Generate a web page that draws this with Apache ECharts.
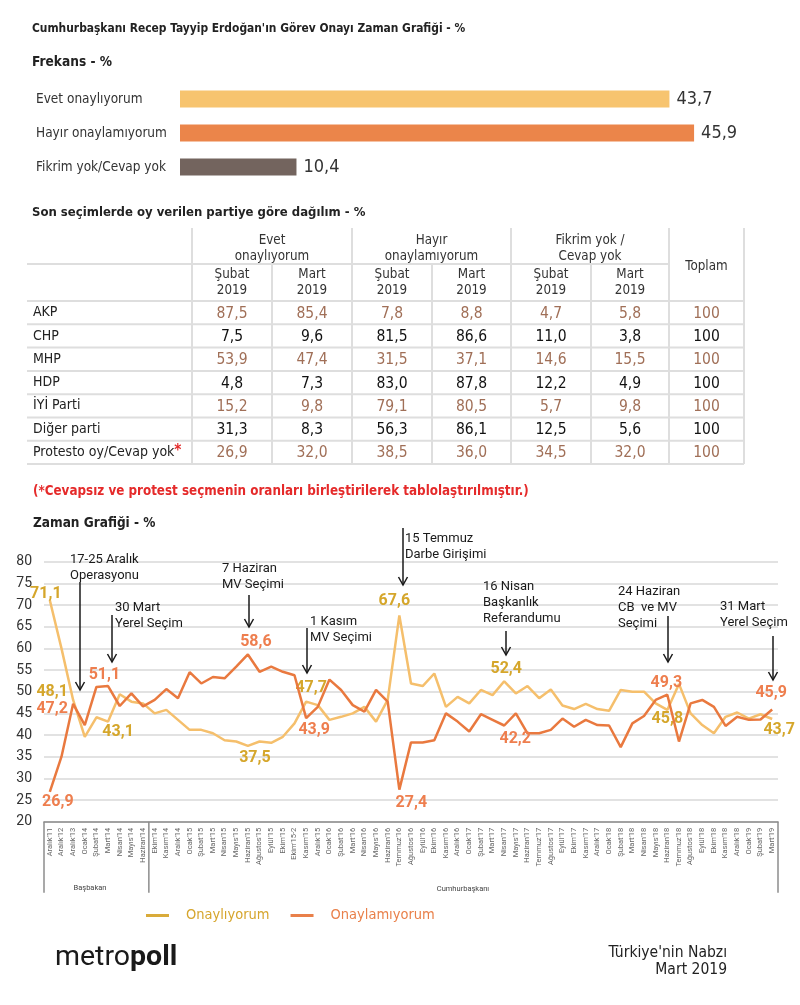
<!DOCTYPE html>
<html><head><meta charset="utf-8">
<script src="https://cdn.jsdelivr.net/npm/echarts@6/dist/echarts.min.js"></script>
<style>html,body{margin:0;padding:0;background:#fff}#c{width:800px;height:1005px}</style>
</head><body><div id="c"></div>
<script>
// ---------- DATA ----------
const freqCategories = ['Evet onaylıyorum', 'Hayır onaylamıyorum', 'Fikrim yok/Cevap yok'];
const freqValues = [43.7, 45.9, 10.4];

const parties = ['AKP', 'CHP', 'MHP', 'HDP', 'İYİ Parti', 'Diğer parti', 'Protesto oy/Cevap yok'];
const evetSubat   = [87.5, 7.5, 53.9, 4.8, 15.2, 31.3, 26.9];
const evetMart    = [85.4, 9.6, 47.4, 7.3, 9.8, 8.3, 32.0];
const hayirSubat  = [7.8, 81.5, 31.5, 83.0, 79.1, 56.3, 38.5];
const hayirMart   = [8.8, 86.6, 37.1, 87.8, 80.5, 86.1, 36.0];
const fikrimSubat = [4.7, 11.0, 14.6, 12.2, 5.7, 12.5, 34.5];
const fikrimMart  = [5.8, 3.8, 15.5, 4.9, 9.8, 5.6, 32.0];
const toplam      = [100, 100, 100, 100, 100, 100, 100];
const groupHeaders = [['Evet', 'onaylıyorum'], ['Hayır', 'onaylamıyorum'], ['Fikrim yok /', 'Cevap yok']];
const subHeaders = [['Şubat', '2019'], ['Mart', '2019']];

const months = ["Aralık'11","Aralık'12","Aralık'13","Ocak'14","Şubat'14","Mart'14","Nisan'14","Mayıs'14","Haziran'14",
 "Ekim'14","Kasım'14","Aralık'14","Ocak'15","Şubat'15","Mart'15","Nisan'15","Mayıs'15","Haziran'15","Ağustos'15","Eylül'15",
 "Ekim'15","Ekim'15-2","Kasım'15","Aralık'15","Ocak'16","Şubat'16","Mart'16","Nisan'16","Mayıs'16","Haziran'16","Temmuz'16",
 "Ağustos'16","Eylül'16","Ekim'16","Kasım'16","Aralık'16","Ocak'17","Şubat'17","Mart'17","Nisan'17","Mayıs'17","Haziran'17",
 "Temmuz'17","Ağustos'17","Eylül'17","Ekim'17","Kasım'17","Aralık'17","Ocak'18","Şubat'18","Mart'18","Nisan'18","Mayıs'18",
 "Haziran'18","Temmuz'18","Ağustos'18","Eylül'18","Ekim'18","Kasım'18","Aralık'18","Ocak'19","Şubat'19","Mart'19"];
const onayliyorum = [71.1,60.0,48.1,39.6,44.1,43.1,49.4,47.7,47.3,45.0,45.8,43.5,41.2,41.2,40.4,38.8,38.5,37.5,38.5,38.2,
 39.6,42.7,47.7,46.9,43.5,44.2,45.0,46.5,43.1,48.1,67.6,51.9,51.3,54.2,46.5,48.8,47.3,50.4,49.2,52.4,49.6,51.3,48.5,50.5,
 46.8,46.0,47.2,46.0,45.6,50.4,50.0,50.0,47.3,45.8,51.8,45.0,42.3,40.4,44.2,45.2,43.8,44.8,43.7];
const onaylamiyorum = [26.9,35.0,47.2,42.3,51.1,51.3,46.7,49.6,46.6,48.1,50.6,48.5,54.5,51.9,53.4,53.1,55.8,58.6,54.6,55.8,
 54.6,53.8,43.9,46.5,52.8,50.4,46.9,45.4,50.4,47.7,27.4,38.3,38.3,38.8,45.0,43.1,40.8,44.8,43.5,42.2,45.0,40.4,40.4,41.2,
 43.8,41.9,43.5,42.3,42.2,37.2,42.7,44.4,48.1,49.3,38.5,47.3,48.1,46.5,42.1,44.2,43.5,43.6,45.9];
const labeledYes = [0, 2, 5, 17, 22, 30, 39, 53, 62];
const labeledNo  = [0, 2, 4, 17, 22, 30, 39, 53, 62];

// ---------- STYLE / LAYOUT ----------
const COND = "'Liberation Sans Narrow','DejaVu Sans Condensed',Roboto,sans-serif";
const SANS = "Roboto,'Noto Sans',sans-serif";
const freqColors = ['#F7C46F', '#EB854A', '#73645E'];
const yesLine = '#F5BF6C', noLine = '#E9793F';
const yesText = '#D5A62B', noText = '#EE7E4E';
const brown = '#A06F57';
const yesOffsets = {0:[-4,-6], 2:[-21,-8], 5:[10,10], 17:[7,12], 22:[5,-14], 30:[-5,-14], 39:[2,-12], 53:[0,9], 62:[7,11]};
const noOffsets  = {0:[8,10], 2:[-21,5], 4:[8,-12], 17:[8,-12], 22:[8,12], 30:[12,13], 39:[11,13], 53:[-1,-12], 62:[-1,-16]};

function fmt(v) { return v.toFixed(1).replace('.', ','); }

const graphics = [];
function txt(x, y, text, font, fill, align, extra) {
  graphics.push({type: 'text', x: x, y: y, silent: true, z: 10,
    style: Object.assign({text: text, font: font, fill: fill || '#222', textAlign: align || 'left', textVerticalAlign: 'middle'}, extra || {})});
}
function line(x1, y1, x2, y2, stroke, w) {
  graphics.push({type: 'line', silent: true, z: 5, shape: {x1: x1, y1: y1, x2: x2, y2: y2}, style: {stroke: stroke, lineWidth: w}});
}

// titles
txt(32, 29, "Cumhurbaşkanı Recep Tayyip Erdoğan'ın Görev Onayı Zaman Grafiği - %", 'bold 11.9px ' + COND, '#222');
txt(32, 62, 'Frekans - %', 'bold 13.6px ' + COND, '#222');
txt(32, 213, 'Son seçimlerde oy verilen partiye göre dağılım - %', 'bold 13px ' + COND, '#222');
txt(33, 492, '(*Cevapsız ve protest seçmenin oranları birleştirilerek tablolaştırılmıştır.)', 'bold 13.3px ' + COND, '#E52A2A');
txt(33, 523, 'Zaman Grafiği - %', 'bold 13.5px ' + COND, '#222');

// table
const tableCols = [evetSubat, evetMart, hayirSubat, hayirMart, fikrimSubat, fikrimMart, toplam];
const edges = [192, 272, 352, 432, 511, 591, 669, 744];
const tLeft = 27, tTop = 228, groupY = 264, headY = 301, rowH = 23.3;
const tBottom = headY + rowH * parties.length;
const gridC = '#DEDEDE';
[0, 2, 4, 6, 7].forEach(k => line(edges[k], tTop, edges[k], tBottom, gridC, 2));
[1, 3, 5].forEach(k => line(edges[k], groupY, edges[k], tBottom, gridC, 2));
line(tLeft, groupY, edges[6], groupY, gridC, 2);
for (let r = 0; r <= parties.length; r++) line(tLeft, headY + r * rowH, edges[7], headY + r * rowH, gridC, 2);
const headFont = '13.3px ' + COND;
groupHeaders.forEach((g, k) => {
  const cx = (edges[2 * k] + edges[2 * k + 2]) / 2;
  txt(cx, 241, g[0], headFont, '#333', 'center');
  txt(cx, 257, g[1], headFont, '#333', 'center');
});
for (let c = 0; c < 6; c++) {
  const cx = (edges[c] + edges[c + 1]) / 2;
  txt(cx, 275, subHeaders[c % 2][0], headFont, '#333', 'center');
  txt(cx, 291, subHeaders[c % 2][1], headFont, '#333', 'center');
}
txt((edges[6] + edges[7]) / 2, 267, 'Toplam', headFont, '#333', 'center');
parties.forEach((p, r) => {
  const cy = headY + rowH * (r + 0.5);
  if (r === parties.length - 1) {
    graphics.push({type: 'text', x: 33, y: cy, silent: true, z: 10, style: {
      text: '{a|' + p + '}{b|*}', textVerticalAlign: 'middle', textAlign: 'left',
      rich: {a: {font: '14px ' + COND, fill: '#222'}, b: {font: 'bold 15px ' + COND, fill: '#E52A2A', padding: [0, 0, 2, 0]}}}});
  } else {
    txt(33, cy, p, '14px ' + COND, '#222');
  }
  const col = (r % 2 === 0) ? brown : '#111';
  tableCols.forEach((arr, c) => {
    const cx = (edges[c] + edges[c + 1]) / 2;
    const s = c === 6 ? String(arr[r]) : fmt(arr[r]);
    txt(cx, cy + 1, s, '15.5px ' + COND, col, 'center');
  });
});

// x-axis box lines for time chart
const gL = 44, gW = 734, gTop = 561.7, gH = 260;
const band = gW / months.length;
const axisBottom = gTop + gH;
const boxC = '#8c8c8c';
line(gL, axisBottom, gL, axisBottom + 71, boxC, 1.5);
line(gL + 9 * band, axisBottom, gL + 9 * band, axisBottom + 71, boxC, 1.5);
line(gL + gW, axisBottom, gL + gW, axisBottom + 71, boxC, 1.5);
txt(90, 888, 'Başbakan', '7.5px ' + SANS, '#444', 'center');
txt(463, 889, 'Cumhurbaşkanı', '7.5px ' + SANS, '#444', 'center');

// annotations
const annotations = [
  {lines: ['17-25 Aralık', 'Operasyonu'], tx: 70, ty: 560, ax: 80, ay1: 582, ay2: 690},
  {lines: ['30 Mart', 'Yerel Seçim'], tx: 115, ty: 608, ax: 112, ay1: 615, ay2: 662},
  {lines: ['7 Haziran', 'MV Seçimi'], tx: 222, ty: 569, ax: 249, ay1: 595, ay2: 627},
  {lines: ['1 Kasım', 'MV Seçimi'], tx: 310, ty: 622, ax: 307, ay1: 628, ay2: 673},
  {lines: ['15 Temmuz', 'Darbe Girişimi'], tx: 405, ty: 539, ax: 403, ay1: 528, ay2: 585},
  {lines: ['16 Nisan', 'Başkanlık', 'Referandumu'], tx: 483, ty: 587, ax: 506, ay1: 631, ay2: 655},
  {lines: ['24 Haziran', 'CB  ve MV', 'Seçimi'], tx: 618, ty: 592, ax: 668, ay1: 616, ay2: 662},
  {lines: ['31 Mart', 'Yerel Seçim'], tx: 720, ty: 607, ax: 773, ay1: 636, ay2: 680}
];
annotations.forEach(a => {
  a.lines.forEach((l, k) => txt(a.tx, a.ty + k * 16, l, '13px ' + SANS, '#1a1a1a'));
  line(a.ax, a.ay1, a.ax, a.ay2, '#1a1a1a', 1.5);
  graphics.push({type: 'polyline', silent: true, z: 6, shape: {points: [[a.ax - 4.5, a.ay2 - 8], [a.ax, a.ay2], [a.ax + 4.5, a.ay2 - 8]]},
    style: {stroke: '#1a1a1a', lineWidth: 1.5, fill: null}});
});

// footer
graphics.push({type: 'text', x: 55, y: 958, silent: true, z: 10, style: {
  text: '{a|metro}{b|poll}', textVerticalAlign: 'middle', textAlign: 'left',
  rich: {a: {font: '28.5px ' + SANS, fill: '#1a1a1a'}, b: {font: 'bold 28.5px ' + SANS, fill: '#1a1a1a'}}}});
txt(727, 953, "Türkiye'nin Nabzı", '15.5px ' + COND, '#222', 'right');
txt(727, 970, 'Mart 2019', '15.5px ' + COND, '#222', 'right');

// series data with selected labels
function buildData(values, idx, offsets, color) {
  return values.map((v, i) => idx.indexOf(i) >= 0 ? {
    value: v,
    label: {show: true, position: 'inside', offset: offsets[i], formatter: fmt(v), color: color,
      fontWeight: 'bold', fontSize: 16, fontFamily: SANS}
  } : v);
}

const option = {
  animation: false,
  backgroundColor: '#fff',
  grid: [
    {left: 180, top: 82, width: 560, height: 102},
    {left: gL, top: gTop, width: gW, height: gH}
  ],
  xAxis: [
    {gridIndex: 0, type: 'value', min: 0, max: 50, show: false},
    {gridIndex: 1, type: 'category', data: months, boundaryGap: true,
      axisLine: {show: true, lineStyle: {color: boxC, width: 1.5}}, axisTick: {show: false},
      axisLabel: {interval: 0, rotate: 90, fontSize: 7.5, color: '#666', margin: 6, fontFamily: SANS},
      splitLine: {show: false}}
  ],
  yAxis: [
    {gridIndex: 0, type: 'category', data: freqCategories, inverse: true,
      axisLine: {show: false}, axisTick: {show: false},
      axisLabel: {align: 'left', margin: 144, fontSize: 13.5, color: '#333', fontFamily: COND}},
    {gridIndex: 1, type: 'value', min: 20, max: 80, interval: 5,
      axisLine: {show: false}, axisTick: {show: false},
      axisLabel: {fontSize: 14, color: '#333', margin: 12, fontFamily: SANS},
      splitLine: {lineStyle: {color: '#d9d9d9', width: 1.5}}}
  ],
  legend: {
    left: 146, top: 908, padding: 0, icon: 'rect', itemWidth: 23, itemHeight: 3, itemGap: 21, selectedMode: false,
    data: [
      {name: 'Onaylıyorum', itemStyle: {color: '#D9AB3A'}, textStyle: {color: '#D6A52C'}},
      {name: 'Onaylamıyorum', itemStyle: {color: '#E9804A'}, textStyle: {color: '#E9804A'}}
    ],
    textStyle: {fontSize: 14.5, fontFamily: COND, padding: [0, 0, 0, 12]}
  },
  series: [
    {type: 'bar', xAxisIndex: 0, yAxisIndex: 0, barWidth: 17,
      data: freqValues.map((v, i) => ({value: v, itemStyle: {color: freqColors[i]}})),
      label: {show: true, position: 'right', distance: 7, formatter: p => fmt(p.value), fontSize: 18, color: '#333', fontFamily: COND}},
    {type: 'line', name: 'Onaylıyorum', xAxisIndex: 1, yAxisIndex: 1, data: buildData(onayliyorum, labeledYes, yesOffsets, yesText),
      symbol: 'circle', symbolSize: 0.01, showAllSymbol: true, lineStyle: {color: yesLine, width: 2.5}, itemStyle: {color: yesLine}, z: 3},
    {type: 'line', name: 'Onaylamıyorum', xAxisIndex: 1, yAxisIndex: 1, data: buildData(onaylamiyorum, labeledNo, noOffsets, noText),
      symbol: 'circle', symbolSize: 0.01, showAllSymbol: true, lineStyle: {color: noLine, width: 2.5}, itemStyle: {color: noLine}, z: 4}
  ],
  graphic: graphics
};

const chart = echarts.init(document.getElementById('c'));
chart.setOption(option);
</script>
</body></html>
